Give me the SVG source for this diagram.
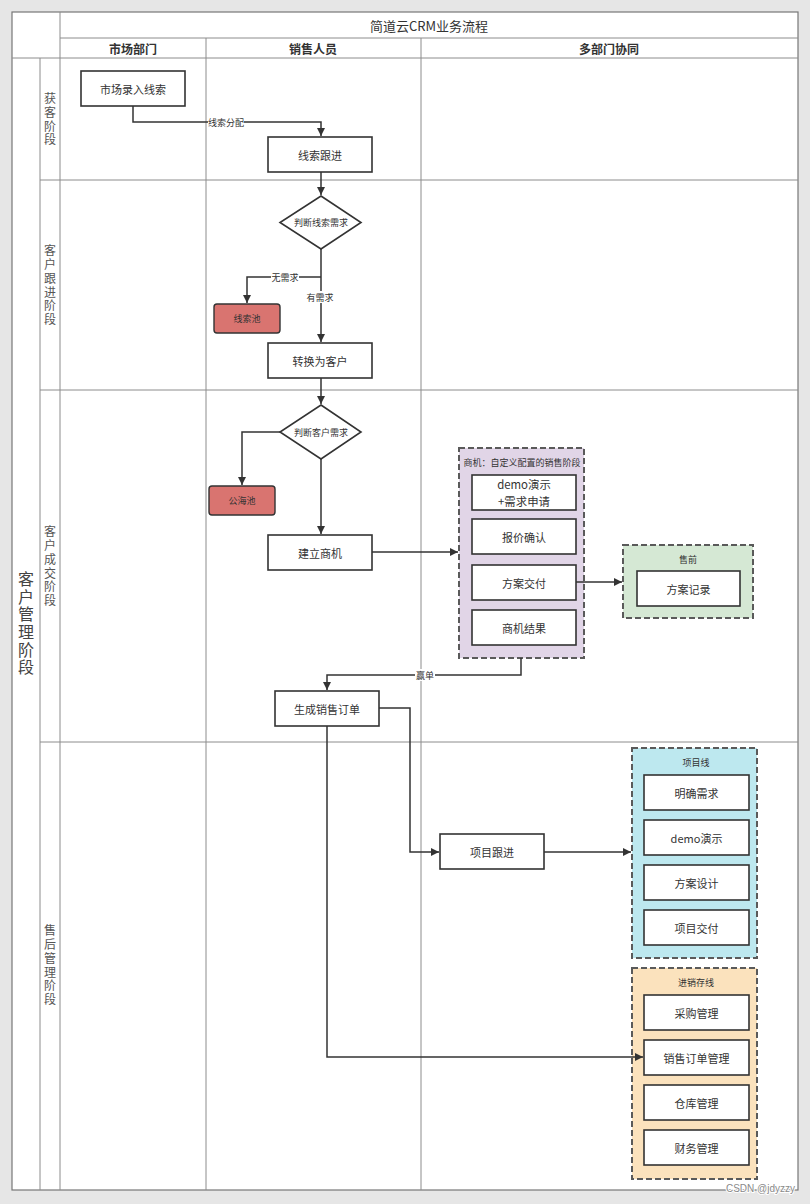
<svg xmlns="http://www.w3.org/2000/svg" width="810" height="1204" viewBox="0 0 810 1204">
<defs>
<marker id="arr" markerUnits="userSpaceOnUse" markerWidth="10" markerHeight="10" refX="9" refY="5" orient="auto">
<path d="M1,1 L9,5 L1,9 Z" fill="#333"/>
</marker>
<style>
text{font-family:"Noto Sans CJK SC","Liberation Sans",sans-serif;fill:#333;}
.lane{fill:none;stroke:#8c8c8c;stroke-width:1;}
.node{fill:#fff;stroke:#333;stroke-width:1.6;}
.red{fill:#d97470;stroke:#333;stroke-width:1.4;}
.grp{stroke:#5a5a5a;stroke-width:2;stroke-dasharray:6,3;}
.t{font-size:11px;text-anchor:middle;dominant-baseline:central;}
.t12{font-size:11.4px;text-anchor:middle;dominant-baseline:central;}
.s{font-size:9px;text-anchor:middle;dominant-baseline:central;}
.h{font-size:12px;font-weight:bold;text-anchor:middle;dominant-baseline:central;}
.v{font-size:12px;text-anchor:middle;fill:#555;writing-mode:vertical-rl;text-orientation:upright;letter-spacing:1.7px;}
.vb{font-size:16px;text-anchor:middle;fill:#444;writing-mode:vertical-rl;text-orientation:upright;letter-spacing:1.6px;}
.conn{fill:none;stroke:#333;stroke-width:1.5;}
.lbl{fill:#fff;}
</style>
</defs>
<rect x="0" y="0" width="810" height="1204" fill="#e6e6e6"/>
<g id="pool">
<rect x="12" y="12" width="786" height="1178" fill="#fff" stroke="#777" stroke-width="1.2"/>
<line class="lane" x1="60" y1="12" x2="60" y2="1190"/>
<line class="lane" x1="60" y1="38" x2="798" y2="38"/>
<line class="lane" x1="12" y1="58" x2="798" y2="58"/>
<line class="lane" x1="40" y1="58" x2="40" y2="1190"/>
<line class="lane" x1="206" y1="38" x2="206" y2="1190"/>
<line class="lane" x1="421" y1="38" x2="421" y2="1190"/>
<line class="lane" x1="40" y1="180" x2="798" y2="180"/>
<line class="lane" x1="40" y1="390" x2="798" y2="390"/>
<line class="lane" x1="40" y1="742" x2="798" y2="742"/>
<text x="429" y="25" style="font-size:13px;text-anchor:middle;dominant-baseline:central;">简道云CRM业务流程</text>
<text class="h" x="133" y="48">市场部门</text>
<text class="h" x="313" y="48">销售人员</text>
<text class="h" x="609" y="48">多部门协同</text>
<text class="vb" x="26" y="624">客户管理阶段</text>
<text class="v" x="50" y="120">获客阶段</text>
<text class="v" x="50" y="286">客户跟进阶段</text>
<text class="v" x="50" y="567">客户成交阶段</text>
<text class="v" x="50" y="966">售后管理阶段</text>
</g>
<g id="n-market-lead"><rect class="node" x="81" y="71" width="104" height="35"/><text class="t" x="133" y="88.5">市场录入线索</text></g>
<g id="n-lead-follow"><rect class="node" x="268" y="137" width="104" height="35"/><text class="t" x="320" y="154.5">线索跟进</text></g>
<g id="n-judge-lead"><polygon class="node" points="321,196 361,222.5 321,249 280,222.5"/><text class="s" x="321" y="222.5">判断线索需求</text></g>
<g id="n-lead-pool"><rect class="red" x="214" y="304" width="66" height="29" rx="3"/><text class="s" x="247" y="318.5">线索池</text></g>
<g id="n-convert"><rect class="node" x="268" y="343" width="104" height="35"/><text class="t" x="320" y="360.5">转换为客户</text></g>
<g id="n-judge-cust"><polygon class="node" points="321,405 361,432 321,459 280,432"/><text class="s" x="321" y="432">判断客户需求</text></g>
<g id="n-sea-pool"><rect class="red" x="209" y="486" width="66" height="29" rx="3"/><text class="s" x="242" y="500.5">公海池</text></g>
<g id="n-opp"><rect class="node" x="268" y="535" width="104" height="35"/><text class="t" x="320" y="552.5">建立商机</text></g>
<g id="g-opp-stage">
<rect class="grp" x="459" y="448" width="125" height="210" fill="#e1d5e7"/>
<text class="s" x="522" y="462">商机：自定义配置的销售阶段</text>
<rect class="node" x="472" y="475" width="104" height="35"/><text class="t12" x="524" y="484.3"><tspan x="524">demo演示</tspan><tspan x="524" dy="16.6">+需求申请</tspan></text>
<rect class="node" x="472" y="519" width="104" height="35"/><text class="t" x="524" y="536.5">报价确认</text>
<rect class="node" x="472" y="565" width="104" height="35"/><text class="t" x="524" y="582.5">方案交付</text>
<rect class="node" x="472" y="610" width="104" height="35"/><text class="t" x="524" y="627.5">商机结果</text>
</g>
<g id="g-presale">
<rect class="grp" x="623" y="545" width="130" height="73" fill="#d5e8d4"/>
<text class="s" x="688" y="559">售前</text>
<rect class="node" x="637" y="571" width="103" height="35"/><text class="t" x="688.5" y="588.5">方案记录</text>
</g>
<g id="n-order"><rect class="node" x="275" y="691" width="104" height="35"/><text class="t" x="327" y="708.5">生成销售订单</text></g>
<g id="n-project-follow"><rect class="node" x="440" y="834" width="104" height="35"/><text class="t" x="492" y="851.5">项目跟进</text></g>
<g id="g-project">
<rect class="grp" x="632" y="748" width="125" height="210" fill="#bde8ef"/>
<text class="s" x="696" y="762">项目线</text>
<rect class="node" x="644" y="775" width="105" height="35"/><text class="t" x="696.5" y="792.5">明确需求</text>
<rect class="node" x="644" y="820" width="105" height="35"/><text class="t" x="696.5" y="837.5">demo演示</text>
<rect class="node" x="644" y="865" width="105" height="35"/><text class="t" x="696.5" y="882.5">方案设计</text>
<rect class="node" x="644" y="910" width="105" height="35"/><text class="t" x="696.5" y="927.5">项目交付</text>
</g>
<g id="g-inventory">
<rect class="grp" x="632" y="968" width="125" height="211" fill="#fbe2bd"/>
<text class="s" x="696" y="982">进销存线</text>
<rect class="node" x="644" y="995" width="105" height="35"/><text class="t" x="696.5" y="1012.5">采购管理</text>
<rect class="node" x="644" y="1040" width="105" height="35"/><text class="t" x="696.5" y="1057.5">销售订单管理</text>
<rect class="node" x="644" y="1085" width="105" height="35"/><text class="t" x="696.5" y="1102.5">仓库管理</text>
<rect class="node" x="644" y="1130" width="105" height="35"/><text class="t" x="696.5" y="1147.5">财务管理</text>
</g>
<g id="connectors">
<path class="conn" d="M133,106 V122 H321 V136" marker-end="url(#arr)"/>
<path class="conn" d="M321,172 V195" marker-end="url(#arr)"/>
<path class="conn" d="M321,249 V342" marker-end="url(#arr)"/>
<path class="conn" d="M321,277 H247 V303" marker-end="url(#arr)"/>
<path class="conn" d="M321,378 V404" marker-end="url(#arr)"/>
<path class="conn" d="M280,432 H242 V485" marker-end="url(#arr)"/>
<path class="conn" d="M321,459 V534" marker-end="url(#arr)"/>
<path class="conn" d="M372,552 H458" marker-end="url(#arr)"/>
<path class="conn" d="M576,582 H622" marker-end="url(#arr)"/>
<path class="conn" d="M521,658 V675 H327 V690" marker-end="url(#arr)"/>
<path class="conn" d="M379,708 H410 V852 H439" marker-end="url(#arr)"/>
<path class="conn" d="M544,852 H631" marker-end="url(#arr)"/>
<path class="conn" d="M327,726 V1057 H643" marker-end="url(#arr)"/>
<rect class="lbl" x="208" y="116" width="36" height="12"/>
<text class="s" x="226" y="122">线索分配</text>
<rect class="lbl" x="271" y="271" width="28" height="12"/>
<text class="s" x="285" y="277">无需求</text>
<rect class="lbl" x="306" y="291" width="29" height="12"/>
<text class="s" x="320" y="297">有需求</text>
<rect class="lbl" x="415" y="669" width="20" height="12"/>
<text class="s" x="425" y="675">赢单</text>
</g>
<text x="795" y="1192" style="font-size:10px;text-anchor:end;fill:#8a8a8a;stroke:#fff;stroke-width:2;paint-order:stroke;font-family:'Liberation Sans',sans-serif;">CSDN @jdyzzy</text>
</svg>
